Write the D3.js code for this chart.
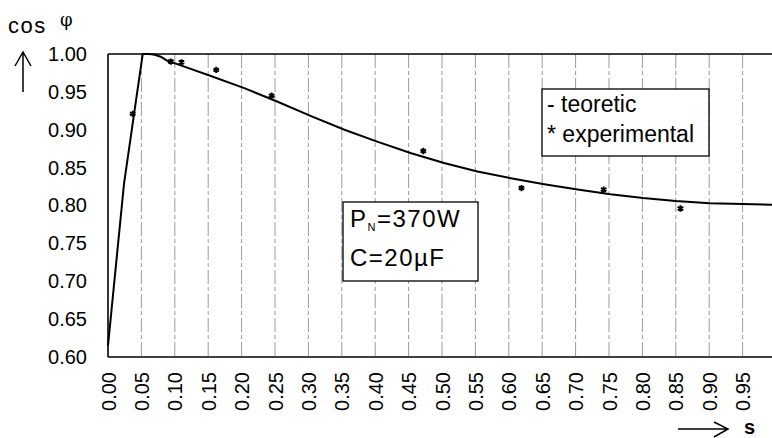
<!DOCTYPE html>
<html>
<head>
<meta charset="utf-8">
<script src="https://cdn.jsdelivr.net/npm/d3@7"></script>
<style>
  body { margin: 0; background: #fff; }
  svg { display: block; }
  text { font-family: "Liberation Sans", Arial, sans-serif; fill: #000; }
</style>
</head>
<body>
<div id="chart"></div>
<script>
// theoretical curve
var sTheor   = [0.000, 0.024, 0.042, 0.052, 0.062, 0.070, 0.080, 0.089, 0.109, 0.154, 0.204, 0.254, 0.304, 0.354, 0.404, 0.454, 0.503, 0.553, 0.603, 0.653, 0.703, 0.752, 0.801, 0.850, 0.901, 0.950, 1.000];
var cosTheor = [0.615, 0.829, 0.939, 1.000, 1.000, 0.999, 0.996, 0.991, 0.985, 0.971, 0.955, 0.937, 0.918, 0.900, 0.884, 0.869, 0.856, 0.845, 0.836, 0.828, 0.821, 0.815, 0.810, 0.806, 0.803, 0.802, 0.801];

// experimental points
var sExp   = [0.037, 0.094, 0.110, 0.162, 0.245, 0.472, 0.619, 0.742, 0.857];
var cosExp = [0.921, 0.990, 0.989, 0.979, 0.945, 0.872, 0.823, 0.821, 0.796];

var xTicks = d3.range(0, 20).map(function(i){ return i * 0.05; });
var yTicks = d3.range(0, 9).map(function(i){ return 0.60 + i * 0.05; });
var legendLines = ["- teoretic", "* experimental"];

var W = 772, H = 438;
var x = d3.scaleLinear().domain([0, 1]).range([108, 776]);
var y = d3.scaleLinear().domain([0.6, 1.0]).range([357, 54]);

var svg = d3.select("#chart").append("svg")
  .attr("width", W).attr("height", H);

// vertical grid (scanned, broken look)
svg.append("g").selectAll("line")
  .data(xTicks.slice(1))
  .enter().append("line")
    .attr("x1", function(d){ return x(d); })
    .attr("x2", function(d){ return x(d); })
    .attr("y1", y(1.0)).attr("y2", y(0.6))
    .attr("stroke", "#9a9a9a")
    .attr("stroke-width", 1)
    .attr("stroke-dasharray", "14,3,4,3");

// frame: left, top, bottom
svg.append("line").attr("x1", x(0)).attr("x2", x(0)).attr("y1", y(1)).attr("y2", y(0.6))
  .attr("stroke", "#000").attr("stroke-width", 1.6);
svg.append("line").attr("x1", x(0)).attr("x2", W).attr("y1", y(1)).attr("y2", y(1))
  .attr("stroke", "#000").attr("stroke-width", 1.6);
svg.append("line").attr("x1", x(0)).attr("x2", W).attr("y1", y(0.6)).attr("y2", y(0.6))
  .attr("stroke", "#000").attr("stroke-width", 1.6);

// y axis labels
var yAxis = svg.append("g")
  .attr("transform", "translate(" + (x(0) - 18) + ",0)")
  .call(d3.axisLeft(y).tickValues(yTicks).tickSize(0).tickFormat(d3.format(".2f")));
yAxis.select(".domain").remove();
yAxis.selectAll("text")
  .attr("font-size", 20)
  .attr("font-family", "Liberation Sans, Arial, sans-serif")
  .attr("fill", "#000");

// x axis labels, rotated
var xAxis = svg.append("g")
  .attr("transform", "translate(0," + y(0.6) + ")")
  .call(d3.axisBottom(x).tickValues(xTicks).tickSize(0).tickFormat(d3.format(".2f")));
xAxis.select(".domain").remove();
xAxis.selectAll("text")
  .attr("font-size", 20)
  .attr("font-family", "Liberation Sans, Arial, sans-serif")
  .attr("fill", "#000")
  .attr("y", 0).attr("dy", "0.35em")
  .attr("transform", "translate(0,15) rotate(-90)")
  .style("text-anchor", "end");

// theoretical line
var line = d3.line()
  .x(function(d, i){ return x(sTheor[i]); })
  .y(function(d){ return y(d); });
svg.append("path")
  .datum(cosTheor)
  .attr("d", line)
  .attr("fill", "none")
  .attr("stroke", "#000")
  .attr("stroke-width", 2)
  .attr("stroke-linejoin", "round");

// experimental asterisks
svg.append("g").selectAll("path")
  .data(cosExp)
  .enter().append("path")
    .attr("transform", function(d, i){ return "translate(" + x(sExp[i]) + "," + y(d) + ")"; })
    .attr("d", d3.symbol().type(d3.symbolAsterisk).size(28))
    .attr("fill", "none")
    .attr("stroke", "#000")
    .attr("stroke-width", 2);

// legend box
var leg = svg.append("g");
leg.append("rect").attr("x", 542).attr("y", 89).attr("width", 167).attr("height", 67)
  .attr("fill", "#fff").attr("stroke", "#000").attr("stroke-width", 1.3);
leg.selectAll("text").data(legendLines).enter().append("text")
  .attr("x", 547).attr("y", function(d, i){ return 112 + i * 30; })
  .attr("font-size", 23)
  .text(function(d){ return d; });

// parameters box
var pb = svg.append("g");
pb.append("rect").attr("x", 343).attr("y", 202).attr("width", 135).attr("height", 79)
  .attr("fill", "#fff").attr("stroke", "#000").attr("stroke-width", 1.3);
var t1 = pb.append("text").attr("x", 350).attr("y", 227).attr("font-size", 24).attr("letter-spacing", 1.5);
t1.append("tspan").text("P");
t1.append("tspan").attr("font-size", 11).attr("dy", 4).text("N");
t1.append("tspan").attr("dy", -4).text("=370W");
pb.append("text").attr("x", 350).attr("y", 266).attr("font-size", 24).attr("letter-spacing", 1.5)
  .text("C=20\u00b5F");

// axis titles
svg.append("text").attr("x", 8).attr("y", 33).attr("font-size", 22).attr("letter-spacing", 1.5).text("cos");
svg.append("text").attr("x", 60).attr("y", 26).attr("font-size", 18)
  .style("font-family", "'DejaVu Serif', serif").text("\u03c6");
svg.append("path").attr("d", "M23,92 L23,52 M15,66 L23,52 L31,66")
  .attr("fill", "none").attr("stroke", "#000").attr("stroke-width", 1.5);

svg.append("path").attr("d", "M678,429 L728,429 M714,422 L728,429 L714,437")
  .attr("fill", "none").attr("stroke", "#000").attr("stroke-width", 1.5);
svg.append("text").attr("x", 744).attr("y", 434).attr("font-size", 20).attr("font-weight", "bold").text("s");
</script>
</body>
</html>
